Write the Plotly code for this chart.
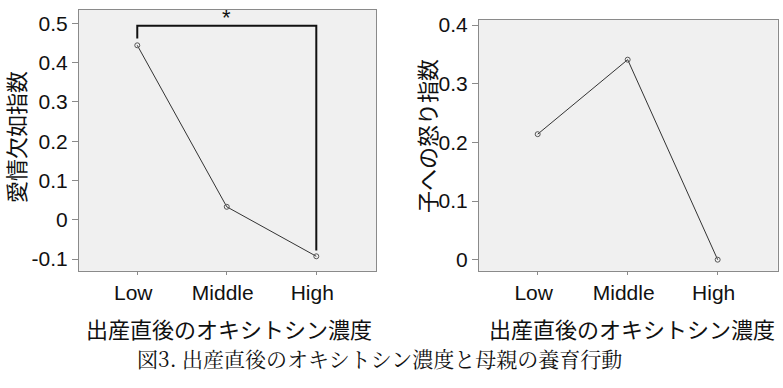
import plotly.graph_objects as go

categories = ["Low", "Middle", "High"]
affection_deficit = [0.444, 0.033, -0.093]
anger_to_child = [0.214, 0.341, 0.0]

left_ytickvals = [-0.1, 0, 0.1, 0.2, 0.3, 0.4, 0.5]
left_yticktext = ["-0.1", "0", "0.1", "0.2", "0.3", "0.4", "0.5"]
right_ytickvals = [0, 0.1, 0.2, 0.3, 0.4]
right_yticktext = ["0", "0.1", "0.2", "0.3", "0.4"]

# significance bracket (Low vs High)
bracket_x = ["Low", "Low", "High", "High"]
bracket_y = [0.461, 0.494, 0.494, -0.078]
star_x = "Middle"
star_y = 0.516

left_ytitle = "愛情欠如指数"
right_ytitle = "子への怒り指数"
xtitle = "出産直後のオキシトシン濃度"
caption = "図3. 出産直後のオキシトシン濃度と母親の養育行動"

W, H = 783, 388
def px_x(v):
    return v / W
def px_y(v):
    return 1 - v / H

LATIN = "Liberation Sans, Arial, sans-serif"
CJK = "Noto Sans CJK JP, sans-serif"
SERIF = "Noto Serif CJK JP, Noto Sans CJK JP, serif"

fig = go.Figure()
line_style = dict(color="#333333", width=1)
marker_style = dict(symbol="circle-open", size=5, color="#555555", line=dict(width=1))

fig.add_trace(go.Scatter(x=categories, y=affection_deficit, mode="lines+markers",
                         line=line_style, marker=marker_style, xaxis="x", yaxis="y",
                         hoverinfo="skip"))
fig.add_trace(go.Scatter(x=bracket_x, y=bracket_y, mode="lines",
                         line=dict(color="#111111", width=2), xaxis="x", yaxis="y",
                         hoverinfo="skip"))
fig.add_trace(go.Scatter(x=categories, y=anger_to_child, mode="lines+markers",
                         line=line_style, marker=marker_style, xaxis="x2", yaxis="y2",
                         hoverinfo="skip"))

axis_common = dict(showline=True, linecolor="#8a8a8a", linewidth=1, mirror=True,
                   showgrid=False, zeroline=False, ticks="outside", tickcolor="#8a8a8a",
                   tickfont=dict(family=LATIN, size=21, color="#111111"))

fig.update_layout(
    width=W, height=H, margin=dict(l=0, r=0, t=0, b=0),
    paper_bgcolor="white", plot_bgcolor="#f0f0f0", showlegend=False,
    xaxis=dict(**axis_common, domain=[px_x(79), px_x(376)], anchor="y",
               type="category", categoryorder="array", categoryarray=categories,
               range=[-0.651, 2.667], ticklen=3, ticklabelstandoff=0, ticklabelshift=-4),
    yaxis=dict(**axis_common, domain=[px_y(269), px_y(4)], anchor="x",
               range=[-0.130, 0.534], tickvals=left_ytickvals, ticktext=left_yticktext,
               ticklen=6, ticklabelstandoff=0),
    xaxis2=dict(**axis_common, domain=[px_x(479), px_x(777.7)], anchor="y2",
                type="category", categoryorder="array", categoryarray=categories,
                range=[-0.652, 2.667], ticklen=3, ticklabelstandoff=0, ticklabelshift=-4),
    yaxis2=dict(**axis_common, domain=[px_y(269), px_y(14)], anchor="x2",
                range=[-0.019, 0.409], tickvals=right_ytickvals, ticktext=right_yticktext,
                ticklen=6, ticklabelstandoff=0),
)

def ann(text, x, y, size, family, angle=0):
    return dict(text=text, x=px_x(x), y=px_y(y), xref="paper", yref="paper",
                xanchor="center", yanchor="middle", showarrow=False, textangle=angle,
                font=dict(family=family, size=size, color="#111111"))

annotations = [
    dict(text="*", x=star_x, y=star_y, xref="x", yref="y", showarrow=False,
         xanchor="center", yanchor="middle",
         font=dict(family=LATIN, size=22, color="#111111")),
    ann(left_ytitle, 15, 133, 22, CJK, -90),
    ann(right_ytitle, 426, 132, 22, CJK, -90),
    ann(xtitle, 228.5, 327, 22, CJK),
    ann(xtitle, 631.5, 327, 22, CJK),
    ann(caption, 379, 358, 21, SERIF),
]
fig.update_layout(annotations=annotations)

fig.write_html("out.html", config={"displayModeBar": False},
               post_script="document.body.style.margin='0';")
